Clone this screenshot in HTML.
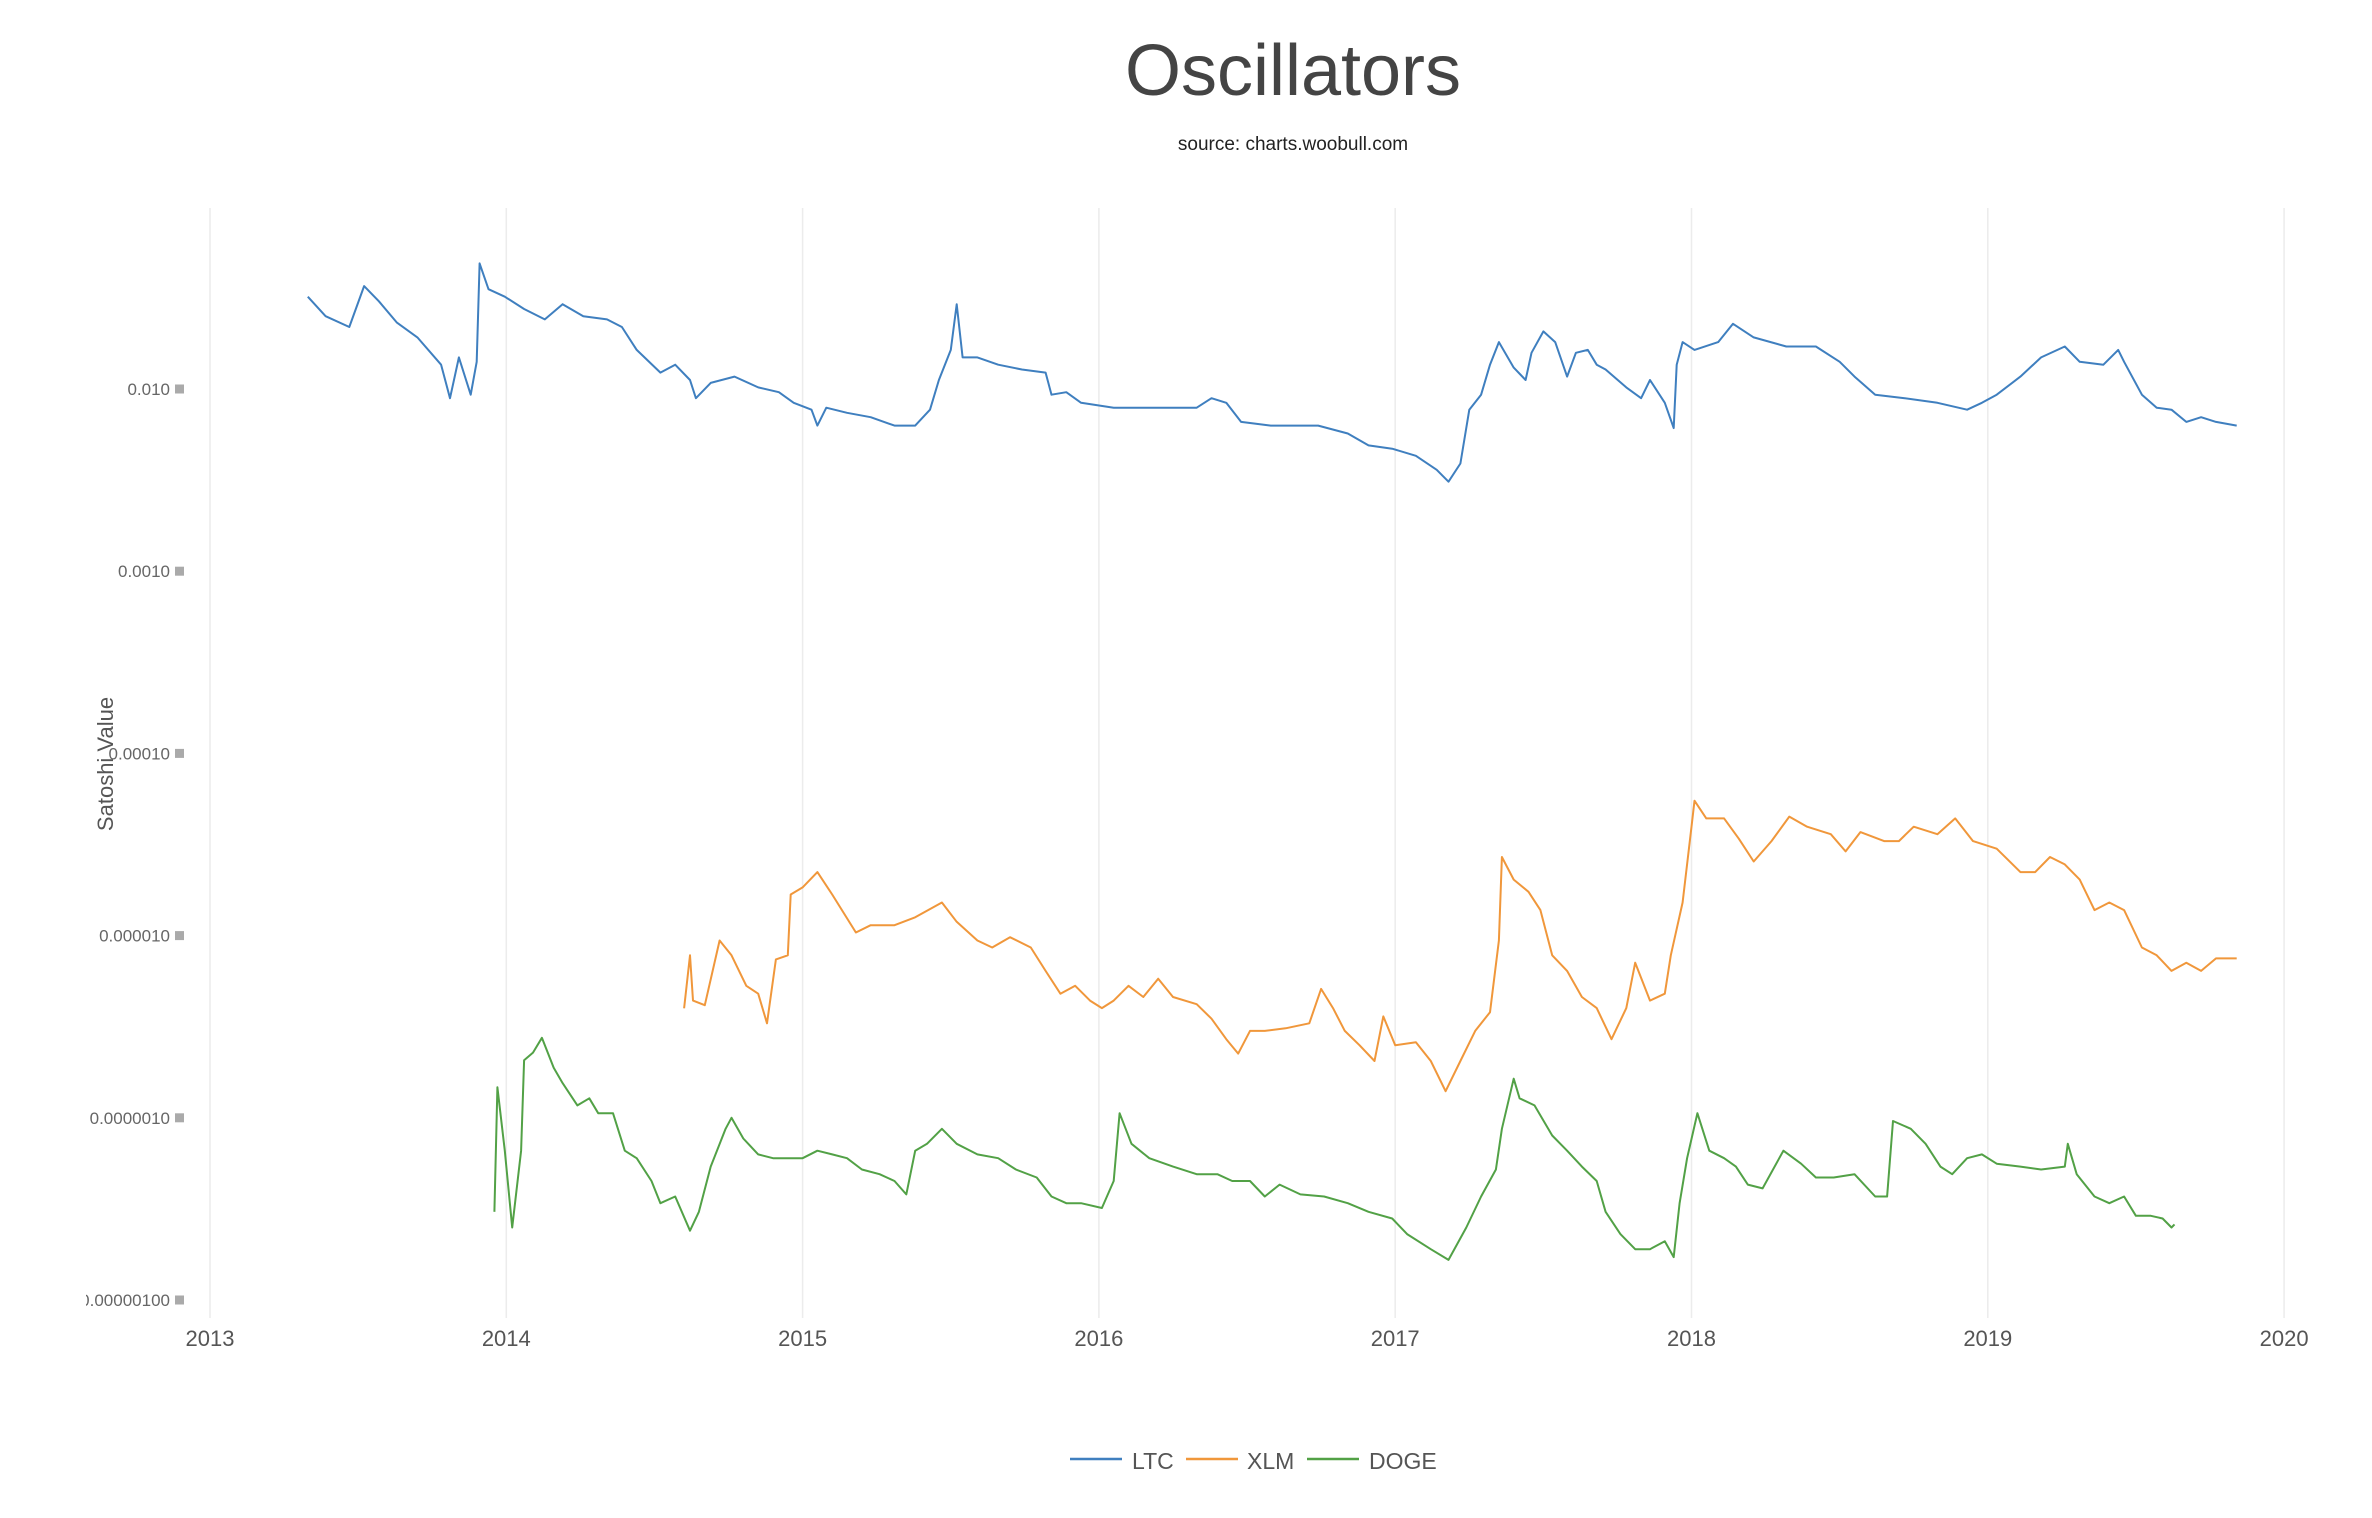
<!DOCTYPE html>
<html><head><meta charset="utf-8"><style>
html,body{margin:0;padding:0;background:#fff;}
svg{display:block;font-family:"Liberation Sans",sans-serif;}
</style></head><body>
<svg id="chart" width="2372" height="1518" viewBox="0 0 2372 1518" xmlns="http://www.w3.org/2000/svg">
<defs><clipPath id="lclip"><rect x="86" y="0" width="2300" height="1518"/></clipPath></defs>
<text x="1293" y="95" text-anchor="middle" font-size="72" fill="#444">Oscillators</text>
<text x="1293" y="150" text-anchor="middle" font-size="19" fill="#222">source: charts.woobull.com</text>
<g id="grid"></g>
<g id="yticks" clip-path="url(#lclip)"></g>
<g id="xticks"></g>
<text transform="translate(113,764) rotate(-90)" text-anchor="middle" font-size="22" fill="#555">Satoshi Value</text>
<g id="series"></g>
<g>
  <g><line x1="1070" y1="1459" x2="1122" y2="1459" stroke="#3f7fbf" stroke-width="2.5"/><text x="1132" y="1469" font-size="23" fill="#555">LTC</text></g>
  <g><line x1="1186" y1="1459" x2="1238" y2="1459" stroke="#f0973b" stroke-width="2.5"/><text x="1247" y="1469" font-size="23" fill="#555">XLM</text></g>
  <g><line x1="1307" y1="1459" x2="1359" y2="1459" stroke="#52a146" stroke-width="2.5"/><text x="1369" y="1469" font-size="23" fill="#555">DOGE</text></g>
</g>
</svg>
<script>
const xTickYears = [2013,2014,2015,2016,2017,2018,2019,2020];
const yTickValues = [0.01,0.001,0.0001,0.00001,0.000001,0.0000001];
const yTickLabels = ["0.010","0.0010","0.00010","0.000010","0.0000010","0.00000100"];

const ltcDates = [2013.33,2013.39,2013.47,2013.52,2013.57,2013.63,2013.70,2013.78,2013.81,2013.84,2013.88,2013.90,2013.91,2013.94,2013.995,2014.06,2014.13,2014.19,2014.26,2014.34,2014.39,2014.44,2014.52,2014.57,2014.62,2014.64,2014.69,2014.77,2014.85,2014.92,2014.97,2015.03,2015.05,2015.08,2015.15,2015.23,2015.31,2015.38,2015.43,2015.46,2015.50,2015.52,2015.54,2015.59,2015.66,2015.74,2015.82,2015.84,2015.89,2015.94,2016.05,2016.17,2016.33,2016.38,2016.43,2016.48,2016.58,2016.74,2016.84,2016.91,2016.99,2017.07,2017.14,2017.18,2017.22,2017.25,2017.29,2017.32,2017.35,2017.40,2017.44,2017.46,2017.50,2017.54,2017.58,2017.61,2017.65,2017.68,2017.71,2017.78,2017.83,2017.86,2017.91,2017.94,2017.95,2017.97,2018.01,2018.09,2018.14,2018.21,2018.32,2018.42,2018.50,2018.55,2018.62,2018.72,2018.83,2018.93,2018.98,2019.03,2019.11,2019.18,2019.26,2019.31,2019.39,2019.44,2019.46,2019.52,2019.57,2019.62,2019.67,2019.72,2019.77,2019.84];
const ltcValues = [0.0321,0.0251,0.0219,0.0367,0.0303,0.0232,0.0192,0.0136,0.0089,0.0149,0.0093,0.0141,0.0489,0.0353,0.0321,0.0275,0.0241,0.0292,0.0251,0.0241,0.0219,0.0164,0.0123,0.0136,0.0112,0.0089,0.0108,0.0117,0.0102,0.0096,0.0084,0.0077,0.0063,0.0079,0.0074,0.0070,0.0063,0.0063,0.0077,0.0112,0.0164,0.0292,0.0149,0.0149,0.0136,0.0128,0.0123,0.0093,0.0096,0.0084,0.0079,0.0079,0.0079,0.0089,0.0084,0.0066,0.0063,0.0063,0.0057,0.0049,0.0047,0.0043,0.0036,0.0031,0.0039,0.0077,0.0093,0.0136,0.0181,0.0131,0.0112,0.0158,0.0207,0.0181,0.0117,0.0158,0.0164,0.0136,0.0128,0.0102,0.0089,0.0112,0.0084,0.0061,0.0136,0.0181,0.0164,0.0181,0.0228,0.0192,0.0171,0.0171,0.0141,0.0117,0.0093,0.0089,0.0084,0.0077,0.0084,0.0093,0.0117,0.0149,0.0171,0.0141,0.0136,0.0164,0.0141,0.0093,0.0079,0.0077,0.0066,0.0070,0.0066,0.0063];

const xlmDates = [2014.60,2014.62,2014.63,2014.67,2014.72,2014.76,2014.81,2014.85,2014.88,2014.91,2014.95,2014.96,2015.00,2015.05,2015.10,2015.18,2015.23,2015.31,2015.38,2015.47,2015.52,2015.59,2015.64,2015.70,2015.77,2015.82,2015.87,2015.92,2015.97,2016.01,2016.05,2016.10,2016.15,2016.20,2016.25,2016.33,2016.38,2016.43,2016.47,2016.51,2016.56,2016.63,2016.71,2016.75,2016.79,2016.83,2016.88,2016.93,2016.96,2017.00,2017.07,2017.12,2017.17,2017.22,2017.27,2017.32,2017.35,2017.36,2017.40,2017.45,2017.49,2017.53,2017.58,2017.63,2017.68,2017.73,2017.78,2017.81,2017.86,2017.91,2017.93,2017.97,2018.00,2018.01,2018.05,2018.11,2018.16,2018.21,2018.27,2018.33,2018.39,2018.47,2018.52,2018.57,2018.65,2018.70,2018.75,2018.83,2018.89,2018.95,2019.03,2019.11,2019.16,2019.21,2019.26,2019.31,2019.36,2019.41,2019.46,2019.52,2019.57,2019.62,2019.67,2019.72,2019.77,2019.84];
const xlmValues = [3.99e-6,7.8e-6,4.4e-6,4.15e-6,9.4e-6,7.8e-6,5.3e-6,4.8e-6,3.3e-6,7.4e-6,7.8e-6,1.68e-5,1.84e-5,2.23e-5,1.68e-5,1.04e-5,1.14e-5,1.14e-5,1.26e-5,1.52e-5,1.19e-5,9.4e-6,8.6e-6,9.8e-6,8.6e-6,6.4e-6,4.8e-6,5.3e-6,4.4e-6,4.0e-6,4.4e-6,5.3e-6,4.6e-6,5.8e-6,4.6e-6,4.2e-6,3.5e-6,2.7e-6,2.25e-6,3.0e-6,3.0e-6,3.1e-6,3.3e-6,5.1e-6,4.0e-6,3.0e-6,2.5e-6,2.05e-6,3.6e-6,2.5e-6,2.6e-6,2.05e-6,1.4e-6,2.05e-6,3.0e-6,3.8e-6,9.4e-6,2.7e-5,2.03e-5,1.74e-5,1.38e-5,7.8e-6,6.4e-6,4.6e-6,4.0e-6,2.7e-6,4.0e-6,7.1e-6,4.4e-6,4.8e-6,7.8e-6,1.52e-5,3.96e-5,5.5e-5,4.4e-5,4.4e-5,3.4e-5,2.55e-5,3.3e-5,4.5e-5,3.96e-5,3.6e-5,2.9e-5,3.7e-5,3.3e-5,3.3e-5,3.96e-5,3.6e-5,4.4e-5,3.3e-5,3.0e-5,2.23e-5,2.23e-5,2.7e-5,2.46e-5,2.03e-5,1.38e-5,1.52e-5,1.38e-5,8.6e-6,7.8e-6,6.4e-6,7.1e-6,6.4e-6,7.5e-6,7.5e-6];

const dogeDates = [2013.96,2013.97,2013.995,2014.02,2014.05,2014.06,2014.09,2014.12,2014.16,2014.19,2014.24,2014.28,2014.31,2014.36,2014.40,2014.44,2014.49,2014.52,2014.57,2014.62,2014.65,2014.69,2014.74,2014.76,2014.80,2014.85,2014.90,2014.95,2015.00,2015.05,2015.10,2015.15,2015.20,2015.26,2015.31,2015.35,2015.38,2015.42,2015.47,2015.52,2015.59,2015.66,2015.72,2015.79,2015.84,2015.89,2015.94,2016.01,2016.05,2016.07,2016.11,2016.17,2016.25,2016.33,2016.40,2016.45,2016.51,2016.56,2016.61,2016.68,2016.76,2016.84,2016.91,2016.99,2017.04,2017.12,2017.18,2017.24,2017.29,2017.34,2017.36,2017.40,2017.42,2017.47,2017.53,2017.58,2017.63,2017.68,2017.71,2017.76,2017.81,2017.86,2017.91,2017.94,2017.96,2017.985,2018.02,2018.06,2018.11,2018.15,2018.19,2018.24,2018.31,2018.37,2018.42,2018.48,2018.55,2018.62,2018.66,2018.68,2018.74,2018.79,2018.84,2018.88,2018.93,2018.98,2019.03,2019.11,2019.18,2019.26,2019.27,2019.30,2019.36,2019.41,2019.46,2019.50,2019.55,2019.59,2019.62,2019.63];
const dogeValues = [3.05e-7,1.47e-6,6.6e-7,2.5e-7,6.6e-7,2.07e-6,2.28e-6,2.75e-6,1.88e-6,1.55e-6,1.17e-6,1.28e-6,1.06e-6,1.06e-6,6.6e-7,6.0e-7,4.5e-7,3.4e-7,3.7e-7,2.4e-7,3.05e-7,5.4e-7,8.7e-7,1.0e-6,7.7e-7,6.3e-7,6.0e-7,6.0e-7,6.0e-7,6.6e-7,6.3e-7,6.0e-7,5.2e-7,4.9e-7,4.5e-7,3.8e-7,6.6e-7,7.2e-7,8.7e-7,7.2e-7,6.3e-7,6.0e-7,5.2e-7,4.7e-7,3.7e-7,3.4e-7,3.4e-7,3.2e-7,4.5e-7,1.06e-6,7.2e-7,6.0e-7,5.4e-7,4.9e-7,4.9e-7,4.5e-7,4.5e-7,3.7e-7,4.3e-7,3.8e-7,3.7e-7,3.4e-7,3.05e-7,2.8e-7,2.3e-7,1.9e-7,1.66e-7,2.5e-7,3.7e-7,5.2e-7,8.7e-7,1.64e-6,1.28e-6,1.17e-6,8.0e-7,6.6e-7,5.4e-7,4.5e-7,3.05e-7,2.3e-7,1.9e-7,1.9e-7,2.1e-7,1.72e-7,3.4e-7,6.0e-7,1.06e-6,6.6e-7,6.0e-7,5.4e-7,4.3e-7,4.1e-7,6.6e-7,5.6e-7,4.7e-7,4.7e-7,4.9e-7,3.7e-7,3.7e-7,9.6e-7,8.7e-7,7.2e-7,5.4e-7,4.9e-7,6.0e-7,6.3e-7,5.6e-7,5.4e-7,5.2e-7,5.4e-7,7.2e-7,4.9e-7,3.7e-7,3.4e-7,3.7e-7,2.9e-7,2.9e-7,2.8e-7,2.5e-7,2.6e-7];

const NS = "http://www.w3.org/2000/svg";
const PX0 = 210, PXW = 296.3, PY0 = 389, PYD = 182.2, TOP = 208, BOTTOM = 1318;
function xScale(yr){ return PX0 + (yr - 2013) * PXW; }
function yScale(v){ return PY0 + (-2 - Math.log10(v)) * PYD; }
function mk(tag, attrs, parent){ const e = document.createElementNS(NS, tag); for (const k in attrs) e.setAttribute(k, attrs[k]); parent.appendChild(e); return e; }

const grid = document.getElementById('grid');
const xt = document.getElementById('xticks');
xTickYears.forEach(function(yr){
  const gl = mk('line', {x1: xScale(yr), x2: xScale(yr), y1: TOP, y2: BOTTOM, stroke: '#ececec', 'stroke-width': 1.5}, grid);
  
  
  const t = mk('text', {x: xScale(yr), y: 1346, 'text-anchor': 'middle', 'font-size': 22, fill: '#555'}, xt);
  t.textContent = yr;
  
  
});
const yt = document.getElementById('yticks');
yTickValues.forEach(function(v, i){
  const y = yScale(v);
  const t = mk('text', {x: 170, y: y + 6, 'text-anchor': 'end', 'font-size': 17, fill: '#666'}, yt);
  t.textContent = yTickLabels[i];
  
  
  const sq = mk('rect', {x: 175, y: y - 4.5, width: 9, height: 9, fill: '#aaa'}, yt);
  
  
});
const ser = document.getElementById('series');
function drawLine(dates, values, color, name){
  let d = '';
  for (let i = 0; i < dates.length; i++) d += (i ? 'L' : 'M') + xScale(dates[i]).toFixed(1) + ',' + yScale(values[i]).toFixed(1);
  const p = mk('path', {d: d, fill: 'none', stroke: color, 'stroke-width': 2, 'stroke-linejoin': 'round'}, ser);
  
  
}
drawLine(ltcDates, ltcValues, '#3f7fbf', 'ltc-line');
drawLine(xlmDates, xlmValues, '#f0973b', 'xlm-line');
drawLine(dogeDates, dogeValues, '#52a146', 'doge-line');
</script>
</body></html>
